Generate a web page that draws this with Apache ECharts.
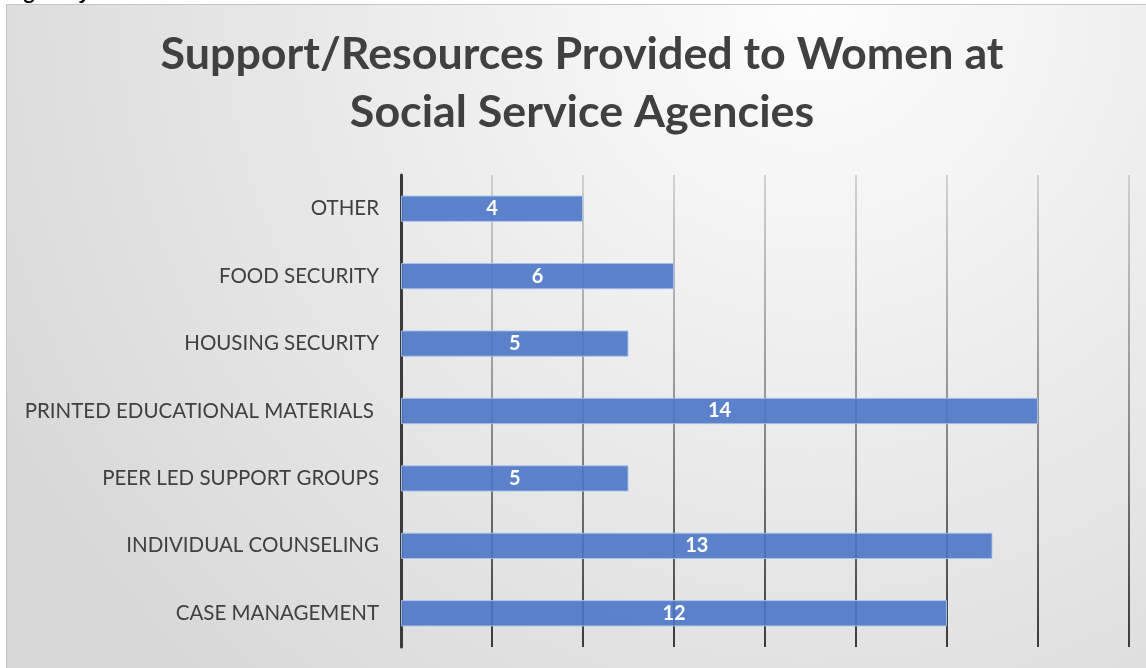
<!DOCTYPE html>
<html>
<head>
<meta charset="utf-8">
<script src="https://cdn.jsdelivr.net/npm/echarts@6/dist/echarts.min.js"></script>
<style>
  html, body { margin: 0; padding: 0; background: #ffffff; }
  #chart { width: 1146px; height: 668px; }
</style>
</head>
<body>
<div id="chart"></div>
<script>
// Data (bottom to top, as in the source spreadsheet)
const categories = [
  'CASE MANAGEMENT',
  'INDIVIDUAL COUNSELING',
  'PEER LED SUPPORT GROUPS',
  'PRINTED EDUCATIONAL MATERIALS ',
  'HOUSING SECURITY',
  'FOOD SECURITY',
  'OTHER'
];
const counts = [12, 13, 5, 14, 5, 6, 4];
const titleText = 'Support/Resources Provided to Women at\nSocial Service Agencies';
const xMin = 0, xMax = 16, xStep = 2;

const chart = echarts.init(document.getElementById('chart'), null, { renderer: 'canvas' });

const option = {
  animation: false,
  backgroundColor: '#ffffff',
  graphic: [
    {
      type: 'rect',
      z: -10,
      shape: { x: 6.5, y: 4.5, width: 1150, height: 680 },
      style: {
        fill: {
          type: 'radial', x: 0.7, y: 0.0, r: 1.35,
          colorStops: [
            { offset: 0, color: '#fdfdfd' },
            { offset: 0.45, color: '#ececec' },
            { offset: 1, color: '#d8d8d8' }
          ]
        },
        stroke: '#c4c4c4',
        lineWidth: 1
      }
    },
    {
      type: 'text',
      left: 22, top: -22,
      z: 5,
      style: { text: 'gency', fill: '#000000', font: '26px "Liberation Sans", Arial, sans-serif' }
    },
    {
      type: 'text',
      x: 582, y: 26,
      z: 5,
      style: {
        text: titleText,
        align: 'center',
        verticalAlign: 'top',
        fill: '#404040',
        font: 'bold 44.8px Lato, "Open Sans", sans-serif',
        lineHeight: 58
      }
    }
  ],
  grid: { left: 401, right: 17, top: 175, bottom: 21, containLabel: false },
  xAxis: {
    type: 'value',
    min: xMin, max: xMax, interval: xStep,
    axisLabel: { show: false },
    axisTick: { show: false },
    axisLine: { show: false },
    splitLine: {
      show: true,
      lineStyle: {
        width: 1.6,
        color: {
          type: 'linear', global: true,
          x: 0, y: 175, x2: 0, y2: 647,
          colorStops: [
            { offset: 0, color: '#c9c9c9' },
            { offset: 0.5, color: '#7a7a7a' },
            { offset: 1, color: '#111111' }
          ]
        }
      }
    }
  },
  yAxis: {
    type: 'category',
    data: categories,
    axisTick: { show: false },
    axisLine: { show: true, lineStyle: { color: '#3a3a3a', width: 3 } },
    axisLabel: {
      margin: 22,
      color: '#404040',
      fontSize: 20.5,
      fontFamily: 'Lato, "Open Sans", sans-serif'
    },
    splitLine: { show: false }
  },
  series: [{
    type: 'bar',
    data: counts,
    barWidth: '39%',
    itemStyle: {
      color: 'rgba(76, 118, 200, 0.9)',
      borderColor: 'rgba(170, 195, 235, 0.9)',
      borderWidth: 1
    },
    label: {
      show: true,
      position: 'inside',
      color: '#ffffff',
      fontWeight: 'bold',
      fontSize: 20,
      fontFamily: 'Lato, "Open Sans", sans-serif'
    }
  }]
};

chart.setOption(option);
</script>
</body>
</html>
